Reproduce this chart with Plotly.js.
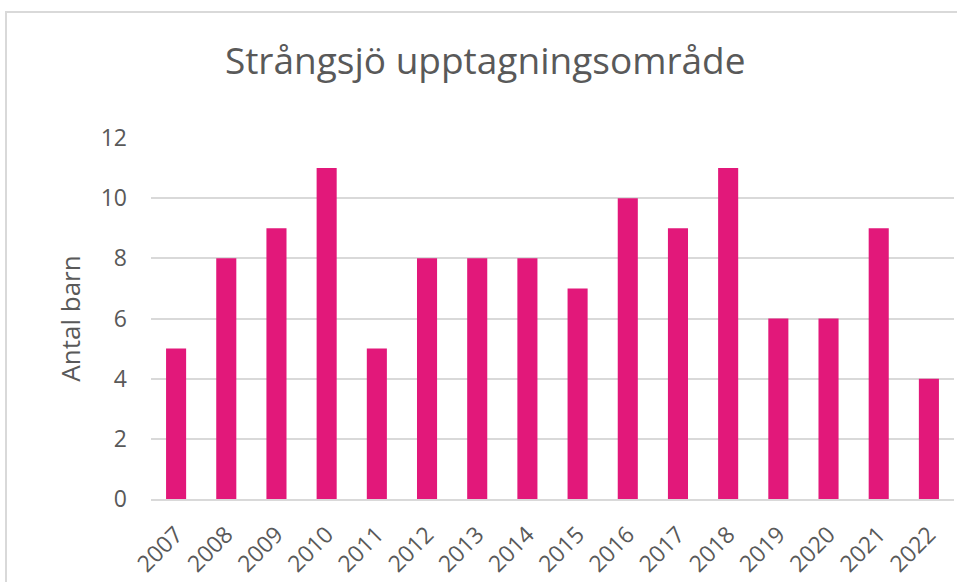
<!DOCTYPE html>
<html>
<head>
<meta charset="utf-8">
<script src="https://cdn.plot.ly/plotly-3.0.1.min.js"></script>
<style>
  html, body { margin: 0; padding: 0; overflow: hidden; background: #fff; }
  #chart { width: 957px; height: 582px; position: absolute; left: 0; top: 0; }
  #frame { position: absolute; left: 5px; top: 11px; width: 1200px; height: 1200px;
           border: 2px solid #d9d9d9; pointer-events: none; box-sizing: border-box; }
</style>
</head>
<body>
<div id="chart"></div>
<div id="frame"></div>
<script>
const years = ["2007","2008","2009","2010","2011","2012","2013","2014","2015","2016","2017","2018","2019","2020","2021","2022"];
const antalBarn = [5, 8, 9, 11, 5, 8, 8, 8, 7, 10, 9, 11, 6, 6, 9, 4];
const yTicks = [0, 2, 4, 6, 8, 10, 12];

const textColor = "#595959";
const font = "'Open Sans', 'Noto Sans', sans-serif";

Plotly.newPlot("chart", [{
  type: "bar",
  x: years,
  y: antalBarn,
  marker: { color: "#E2187A" },
  hoverinfo: "x+y"
}], {
  width: 957,
  height: 582,
  margin: { l: 151, r: 3, t: 138, b: 83 },
  paper_bgcolor: "#ffffff",
  plot_bgcolor: "#ffffff",
  bargap: 0.6,
  showlegend: false,
  title: {
    text: "Strångsjö upptagningsområde",
    font: { family: font, size: 37, color: textColor },
    x: 0.507, xanchor: "center",
    y: 0.895, yanchor: "middle"
  },
  xaxis: {
    type: "category",
    tickangle: -45,
    tickfont: { family: font, size: 23, color: textColor },
    showgrid: false,
    showline: true,
    linecolor: "#d9d9d9",
    linewidth: 2,
    ticks: "",
    ticklabelstandoff: 11,
    automargin: false
  },
  yaxis: {
    range: [0, 12],
    tickvals: yTicks,
    ticktext: yTicks.map(String),
    tickfont: { family: font, size: 23, color: textColor },
    gridcolor: "#d9d9d9",
    gridwidth: 2,
    zeroline: false,
    showline: false,
    ticks: "",
    ticklabelstandoff: 23,
    automargin: false,
    title: {
      text: "Antal barn",
      font: { family: font, size: 26, color: textColor },
      standoff: 12
    }
  }
}, { displayModeBar: false, staticPlot: true });
</script>
</body>
</html>
